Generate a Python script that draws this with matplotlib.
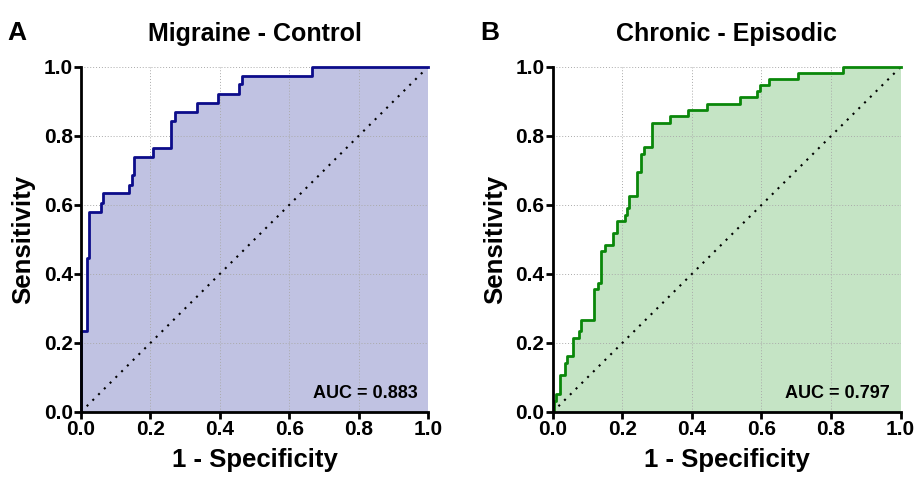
import matplotlib
matplotlib.use("Agg")
import matplotlib.pyplot as plt

plt.rcParams['font.family'] = ['Liberation Sans', 'DejaVu Sans']
plt.rcParams['font.weight'] = 'bold'

# Painel A - Migraine vs Control
# cada degrau: posicao em 1-especificidade e sensibilidade depois do degrau
passo_x_a = [0, 0.016, 0.018, 0.022, 0.057, 0.064, 0.138, 0.148, 0.154, 0.208, 0.259,
             0.271, 0.333, 0.396, 0.455, 0.463, 0.665]
passo_y_a = [0.234, 0.342, 0.446, 0.58, 0.606, 0.635, 0.659, 0.688, 0.738, 0.765, 0.844,
             0.869, 0.895, 0.922, 0.950, 0.975, 1.0]
auc_a = "AUC = 0.883"

# Painel B - Chronic vs Episodic
passo_x_b = [0.004, 0.0096, 0.021, 0.035, 0.042, 0.057, 0.059, 0.077, 0.080, 0.119, 0.131,
             0.138, 0.150, 0.172, 0.186, 0.208, 0.213, 0.220, 0.241, 0.254, 0.262, 0.284,
             0.337, 0.388, 0.443, 0.538, 0.588, 0.596, 0.622, 0.704, 0.835]
passo_y_b = [0.031, 0.052, 0.106, 0.142, 0.161, 0.180, 0.214, 0.234, 0.268, 0.357, 0.374,
             0.466, 0.483, 0.519, 0.555, 0.571, 0.591, 0.625, 0.697, 0.749, 0.769, 0.839,
             0.858, 0.876, 0.894, 0.912, 0.931, 0.949, 0.966, 0.983, 1.0]
auc_b = "AUC = 0.797"

ticks = [0.0, 0.2, 0.4, 0.6, 0.8, 1.0]
tick_labels = ["0.0", "0.2", "0.4", "0.6", "0.8", "1.0"]


def degraus(px, py):
    # monta a curva em escada: sobe na vertical, depois segue na horizontal
    x = [0]
    y = [0]
    for xi, yi in zip(px, py):
        x += [xi, xi]
        y += [y[-1], yi]
    x.append(1.0)
    y.append(y[-1])
    return x, y


fig = plt.figure(figsize=(9.17, 4.84), dpi=100)
ax1 = fig.add_axes([0.0883, 0.1488, 0.3784, 0.7128])
ax2 = fig.add_axes([0.6027, 0.1488, 0.3795, 0.7128])


def painel(ax, px, py, cor_linha, cor_fill, titulo, auc):
    fpr, sens = degraus(px, py)
    ax.fill_between(fpr, sens, 0, color=cor_fill, linewidth=0, zorder=1)
    ax.plot(fpr, sens, color=cor_linha, linewidth=2, zorder=4, clip_on=False)
    # linha de referencia pontilhada
    ax.plot([0, 1], [0, 1], color="k", linestyle=(0, (1, 2.9)), linewidth=1.5,
            dash_capstyle='butt', zorder=3)
    ax.set_xlim(0, 1)
    ax.set_ylim(0, 1)
    ax.set_xticks(ticks)
    ax.set_yticks(ticks)
    ax.set_xticklabels(tick_labels, fontsize=15, fontweight='bold')
    ax.set_yticklabels(tick_labels, fontsize=15, fontweight='bold')
    ax.grid(True, color="#aaaaaa", linestyle=(0, (1, 2)), linewidth=0.7, zorder=2)
    ax.set_axisbelow(False)
    for s in ["top", "right"]:
        ax.spines[s].set_visible(False)
    for s in ["left", "bottom"]:
        ax.spines[s].set_linewidth(2)
        ax.spines[s].set_zorder(5)
    ax.tick_params(width=2, length=5, pad=1)
    ax.set_title(titulo, fontsize=18, fontweight='bold', pad=19)
    ax.set_xlabel("1 - Specificity", fontsize=18.5, fontweight='bold', labelpad=6)
    ax.set_ylabel("Sensitivity", fontsize=18.5, fontweight='bold', labelpad=6)
    ax.text(0.97, 0.04, auc, fontsize=13, fontweight='bold', ha='right', va='baseline',
            zorder=6)


painel(ax1, passo_x_a, passo_y_a, "#0c0c8a", "#c0c2e2", "Migraine - Control", auc_a)
painel(ax2, passo_x_b, passo_y_b, "#0a870a", "#c5e4c5", "Chronic - Episodic", auc_b)

fig.text(0.008, 0.917, "A", fontsize=19, fontweight='bold')
fig.text(0.524, 0.917, "B", fontsize=19, fontweight='bold')

fig.savefig("out.png", dpi=100)
